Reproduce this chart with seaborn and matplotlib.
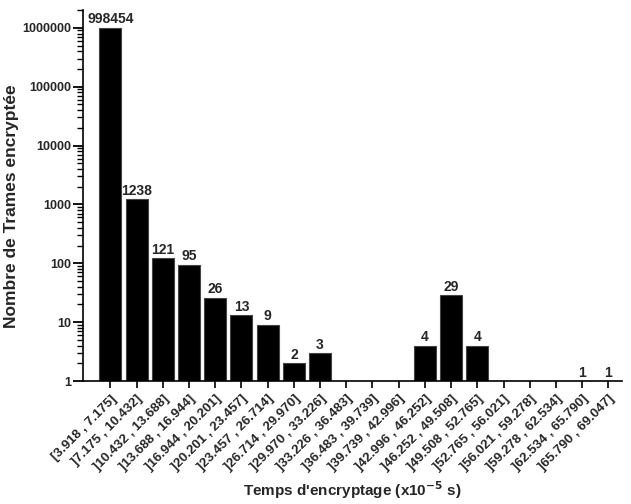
import numpy as np
import pandas as pd
import matplotlib
matplotlib.use("Agg")
import matplotlib.pyplot as plt
import seaborn as sns
from matplotlib.ticker import FixedLocator, FuncFormatter, NullFormatter

# intervalles de temps (x10^-5 s) et nombre de trames
intervals = ["[3.918 , 7.175]", "]7.175 , 10.432]", "]10.432 , 13.688]", "]13.688 , 16.944]",
             "]16.944 , 20.201]", "]20.201 , 23.457]", "]23.457 , 26.714]", "]26.714 , 29.970]",
             "]29.970 , 33.226]", "]33.226 , 36.483]", "]36.483 , 39.739]", "]39.739 , 42.996]",
             "]42.996 , 46.252]", "]46.252 , 49.508]", "]49.508 , 52.765]", "]52.765 , 56.021]",
             "]56.021 , 59.278]", "]59.278 , 62.534]", "]62.534 , 65.790]", "]65.790 , 69.047]"]
counts = [998454, 1238, 121, 95, 26, 13, 9, 2, 3, 0, 0, 0, 4, 29, 4, 0, 0, 0, 1, 1]
y_ticks = [1, 10, 100, 1000, 10000, 100000, 1000000]

sns.set_style("ticks")
plt.rcParams['font.family'] = ['Liberation Sans', 'DejaVu Sans']
plt.rcParams['font.weight'] = 'bold'
plt.rcParams['ytick.left'] = True
plt.rcParams['ytick.minor.visible'] = True

df = pd.DataFrame({"intervalle": intervals, "trames": counts})

fig = plt.figure(figsize=(6.31, 5.04), dpi=100)
ax = fig.add_axes([0.132, 0.244, 0.853, 0.736])

sns.barplot(data=df, x="intervalle", y="trames", color="black", edgecolor="#444444",
            linewidth=0.8, width=0.84, saturation=1, ax=ax)
ax.set_yscale("log")
ax.set_ylim(1, 2.0e6)
ax.set_xlim(-1.03, 19.5)

# petites graduations 2..9 de chaque décade
minor = [m * d for d in y_ticks for m in range(2, 10)]
ax.yaxis.set_major_locator(FixedLocator(y_ticks))
ax.yaxis.set_major_formatter(FuncFormatter(lambda v, p: f"{int(round(v))}"))
ax.yaxis.set_minor_locator(FixedLocator(minor))
ax.yaxis.set_minor_formatter(NullFormatter())
ax.tick_params(axis="y", which="major", left=True, length=7, width=1.3, labelsize=9,
               direction="out", color="black", pad=2)
ax.tick_params(axis="y", which="minor", left=True, length=4, width=1, color="black")
ax.tick_params(axis="x", length=5, width=1.2, labelsize=9.5, direction="out", color="black")

plt.setp(ax.get_xticklabels(), rotation=45, ha="right", rotation_mode="anchor", fontweight="bold")
plt.setp(ax.get_yticklabels(), fontweight="bold")

# valeurs au-dessus des barres non vides
for bar, c in zip(ax.patches, counts):
    if c > 0:
        ax.annotate(str(c), (bar.get_x() + bar.get_width() / 2, c), xytext=(0, 1),
                    textcoords="offset points", ha="center", va="bottom",
                    fontsize=10, fontweight="bold")

for s in ["left", "bottom"]:
    ax.spines[s].set_linewidth(1.2)
    ax.spines[s].set_color("black")
sns.despine(ax=ax)

ax.set_xlabel("Temps d'encryptage (x10$^{\\mathbf{-5}}$ s)", fontsize=11, fontweight="bold", labelpad=4)
ax.set_ylabel("Nombre de Trames encryptée", fontsize=12.5, fontweight="bold")
ax.yaxis.set_label_coords(-0.119, 0.471)

fig.savefig("out.png", dpi=100)
